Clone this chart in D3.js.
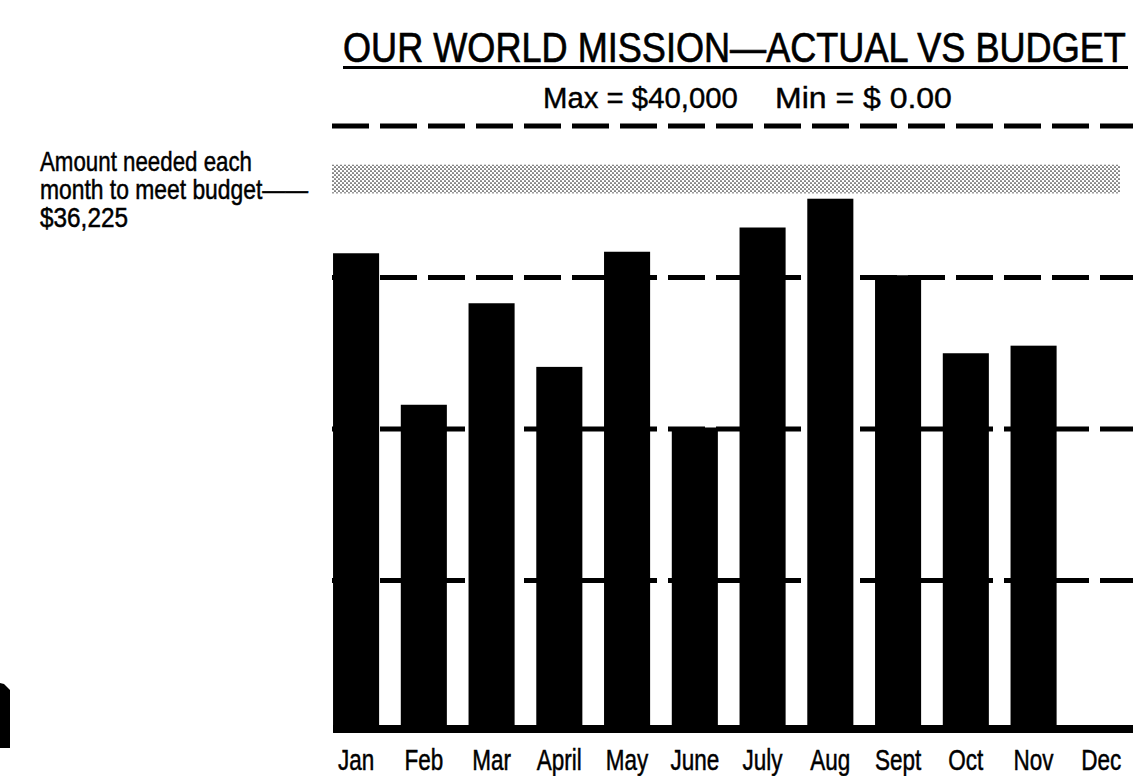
<!DOCTYPE html>
<html>
<head>
<meta charset="utf-8">
<script src="https://cdn.jsdelivr.net/npm/d3@7"></script>
<style>
  html, body { margin: 0; padding: 0; background: #fff; }
  svg { display: block; }
</style>
</head>
<body>
<div id="chart"></div>
<script>
// months and monthly actual giving
const months = ["Jan", "Feb", "Mar", "April", "May", "June", "July", "Aug", "Sept", "Oct", "Nov", "Dec"];
const actual = [31600, 21600, 28300, 24100, 31700, 20100, 33300, 35200, 30150, 25000, 25500, 0];
const gridTicks = [10000, 20000, 30000, 40000];
const budgetBand = [35550, 37450];   // stippled band around the monthly need
const yMax = 40000;

const width = 1133, height = 776;
const font = "'Liberation Sans', Arial, sans-serif";

const svg = d3.select("#chart").append("svg")
  .attr("width", width)
  .attr("height", height)
  .attr("viewBox", [0, 0, width, height])
  .style("background", "#fff")
  .attr("font-family", font);

const x = d3.scaleBand()
  .domain(months)
  .range([322.2, 1135.2])
  .paddingInner(0.32)
  .paddingOuter(0.16);

const y = d3.scaleLinear()
  .domain([0, yMax])
  .range([732, 126]);

const plotLeft = 332, plotRight = width;

// place a text at (x0, y0) and squeeze it horizontally to a given width
function squeeze(sel, x0, y0, w) {
  sel.each(function(d, i) {
    const el = d3.select(this).attr("x", 0).attr("y", 0);
    const nat = this.getComputedTextLength();
    const px = typeof x0 === "function" ? x0(d, i) : x0;
    const py = typeof y0 === "function" ? y0(d, i) : y0;
    const pw = typeof w === "function" ? w(d, i) : w;
    el.attr("transform", `translate(${px},${py}) scale(${pw / nat},1)`);
  });
}

// dot screen for the budget band
const defs = svg.append("defs");
const pat = defs.append("pattern")
  .attr("id", "stipple")
  .attr("patternUnits", "userSpaceOnUse")
  .attr("width", 4)
  .attr("height", 4);
pat.append("circle").attr("cx", 1).attr("cy", 1).attr("r", 0.85).attr("fill", "#000");
pat.append("circle").attr("cx", 3).attr("cy", 3).attr("r", 0.85).attr("fill", "#000");

svg.append("rect")
  .attr("x", plotLeft)
  .attr("y", y(budgetBand[1]))
  .attr("width", 1120 - plotLeft)
  .attr("height", y(budgetBand[0]) - y(budgetBand[1]))
  .attr("fill", "url(#stipple)")
  .attr("opacity", 0.85);

// dashed gridlines
svg.append("g")
  .selectAll("line")
  .data(gridTicks)
  .join("line")
    .attr("x1", plotLeft)
    .attr("x2", plotRight)
    .attr("y1", d => y(d))
    .attr("y2", d => y(d))
    .attr("stroke", "#000")
    .attr("stroke-width", 5)
    .attr("stroke-dasharray", "37,11");

// bars
svg.append("g")
  .selectAll("rect")
  .data(actual)
  .join("rect")
    .attr("x", (d, i) => x(months[i]))
    .attr("y", d => y(d))
    .attr("width", x.bandwidth())
    .attr("height", d => y(0) - y(d))
    .attr("fill", "#000");

// heavy baseline
svg.append("rect")
  .attr("x", x(months[0]))
  .attr("y", y(0) - 7)
  .attr("width", plotRight - x(months[0]))
  .attr("height", 8)
  .attr("fill", "#000");

// month labels, condensed
const xAxis = d3.axisBottom(x).tickSize(0).tickPadding(0);
svg.append("g")
  .attr("transform", `translate(0,${y(0)})`)
  .call(xAxis)
  .call(g => g.select(".domain").remove())
  .call(g => g.selectAll("text")
    .attr("dy", 0)
    .attr("y", 0)
    .attr("transform", "translate(0,38) scale(0.75,1)")
    .attr("font-family", font)
    .attr("font-size", 30)
    .attr("fill", "#000")
    .attr("stroke", "#000")
    .attr("stroke-width", 0.5));

// title
svg.append("text")
  .attr("font-size", 42)
  .attr("stroke", "#000")
  .attr("stroke-width", 0.7)
  .text("OUR WORLD MISSION\u2014ACTUAL VS BUDGET")
  .call(squeeze, 343, 62, 783);

svg.append("rect")
  .attr("x", 343)
  .attr("y", 66)
  .attr("width", 785)
  .attr("height", 3)
  .attr("fill", "#000");

// subtitle
const sub = [
  {t: "Max = $40,000", x: 543, w: 195},
  {t: "Min = $ 0.00", x: 775, w: 177}
];
svg.append("g")
  .selectAll("text")
  .data(sub)
  .join("text")
    .attr("font-size", 29)
    .attr("stroke", "#000")
    .attr("stroke-width", 0.4)
    .text(d => d.t)
    .call(squeeze, d => d.x, 108, d => d.w);

// left annotation: one text block, tight leading like the original
const note = [
  {t: "Amount needed each", w: 212},
  {t: "month to meet budget\u2014\u2014", w: 268},
  {t: "$36,225", w: 88}
];
svg.append("text")
  .attr("font-size", 28)
  .attr("stroke", "#000")
  .attr("stroke-width", 0.5)
  .selectAll("tspan")
  .data(note)
  .join("tspan")
    .attr("x", 40)
    .attr("y", (d, i) => 171 + i * 28)
    .attr("textLength", d => d.w)
    .attr("lengthAdjust", "spacingAndGlyphs")
    .text(d => d.t);

// scan edge artefact at lower left
svg.append("path")
  .attr("d", "M0,683L4,684L10,690L10,748L0,748Z")
  .attr("fill", "#000");
</script>
</body>
</html>
